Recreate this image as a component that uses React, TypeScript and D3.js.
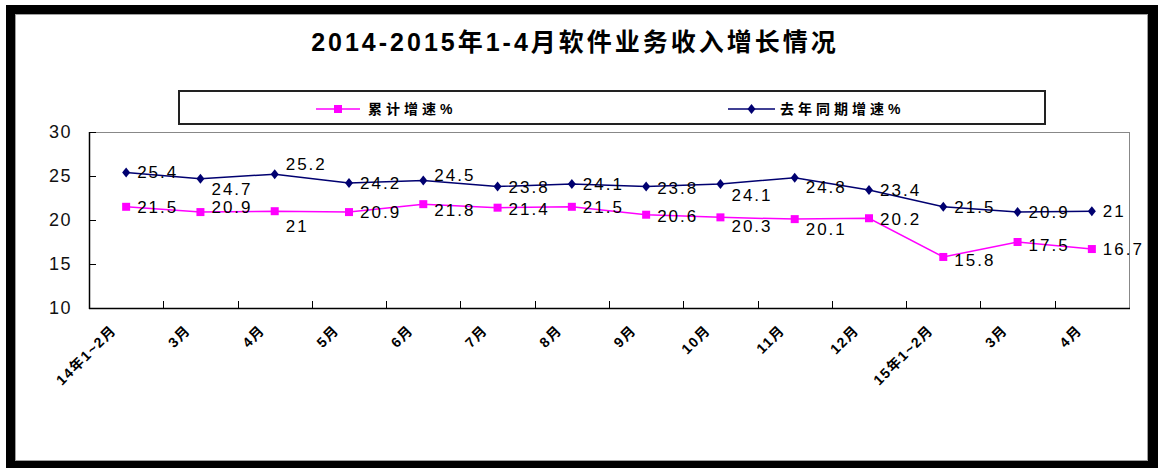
import { useEffect, useRef } from 'react'
import * as d3 from 'd3'

const categories = ['14年1~2月', '3月', '4月', '5月', '6月', '7月', '8月', '9月', '10月', '11月', '12月', '15年1~2月', '3月', '4月']
const cumulative = [21.5, 20.9, 21, 20.9, 21.8, 21.4, 21.5, 20.6, 20.3, 20.1, 20.2, 15.8, 17.5, 16.7]
const lastYear = [25.4, 24.7, 25.2, 24.2, 24.5, 23.8, 24.1, 23.8, 24.1, 24.8, 23.4, 21.5, 20.9, 21]
const yTicks = [10, 15, 20, 25, 30]
const seriesNames = ['累计增速%', '去年同期增速%']
const title = '2014-2015年1-4月软件业务收入增长情况'

// label nudges (px) so text sits like in the original
const cumDy = [0, -5, 15, 0, 6, 1, 0, 1, 9, 10, 1, 3, 3, 0]
const lastDy = [0, 10, -10, 0, -5, 0, 0, 1, 11, 9, 0, 0, 0, 0]

const PINK = '#ff00ff'
const NAVY = '#000070'
const FONT = 'Liberation Sans, Arial, sans-serif'
const CJK = 'Liberation Sans, Noto Sans CJK SC, sans-serif'

export default function App() {
  const ref = useRef<SVGSVGElement>(null)

  useEffect(() => {
    if (!ref.current) return
    const W = 1158
    const H = 468
    const svg = d3.select(ref.current)
    svg.selectAll('*').remove()
    svg.attr('width', W).attr('height', H)

    // outer frame
    svg.append('rect').attr('width', W).attr('height', H).attr('fill', '#fff')
    svg.append('rect').attr('x', 6).attr('y', 5).attr('width', W - 6).attr('height', H - 5).attr('fill', '#000')
    svg.append('rect')
      .attr('x', 15.5).attr('y', 14.5).attr('width', 1132).attr('height', 446)
      .attr('fill', '#fff').attr('stroke', '#a0a0a0')

    // title
    svg.append('text')
      .attr('x', 575).attr('y', 51)
      .attr('text-anchor', 'middle')
      .attr('font-family', CJK)
      .attr('font-size', 25)
      .attr('font-weight', 700)
      .attr('letter-spacing', 3)
      .text(title)

    const left = 89
    const right = 1129
    const top = 132
    const bottom = 308

    const x = d3.scaleBand<number>().domain(d3.range(categories.length)).range([left, right])
    const cx = (i: number) => (x(i) ?? 0) + x.bandwidth() / 2
    const y = d3.scaleLinear().domain([10, 30]).range([bottom, top])

    // legend
    svg.append('rect')
      .attr('x', 179).attr('y', 91).attr('width', 866).attr('height', 33)
      .attr('fill', '#fff').attr('stroke', '#222').attr('stroke-width', 2)

    const diamond = 'M0,-5L4,0L0,5L-4,0Z'
    const legendItems = [
      { name: seriesNames[0], color: PINK, x0: 316, x1: 360, tx: 368, shape: 'square' },
      { name: seriesNames[1], color: NAVY, x0: 728, x1: 775, tx: 780, shape: 'diamond' },
    ]
    legendItems.forEach((d) => {
      const g = svg.append('g')
      g.append('line')
        .attr('x1', d.x0).attr('x2', d.x1).attr('y1', 109).attr('y2', 109)
        .attr('stroke', d.color).attr('stroke-width', 1.5)
      const mx = (d.x0 + d.x1) / 2
      if (d.shape === 'square') {
        g.append('rect').attr('x', mx - 4).attr('y', 105).attr('width', 8).attr('height', 8).attr('fill', d.color)
      } else {
        g.append('path').attr('d', diamond).attr('transform', `translate(${mx},109)`).attr('fill', d.color)
      }
      g.append('text')
        .attr('x', d.tx).attr('y', 114)
        .attr('font-family', CJK).attr('font-size', 14).attr('font-weight', 700)
        .attr('letter-spacing', 4)
        .text(d.name)
    })

    // plot frame
    svg.append('line').attr('x1', left).attr('x2', right).attr('y1', top + 0.5).attr('y2', top + 0.5).attr('stroke', '#888')
    svg.append('line').attr('x1', right + 0.5).attr('x2', right + 0.5).attr('y1', top).attr('y2', bottom).attr('stroke', '#888')
    svg.append('line').attr('x1', left + 0.5).attr('x2', left + 0.5).attr('y1', top).attr('y2', bottom + 1).attr('stroke', '#000').attr('stroke-width', 1.5)
    svg.append('line').attr('x1', left).attr('x2', right + 1).attr('y1', bottom + 0.5).attr('y2', bottom + 0.5).attr('stroke', '#000').attr('stroke-width', 1.5)

    // y ticks + labels
    yTicks.forEach((t) => {
      svg.append('line')
        .attr('x1', left).attr('x2', left + 7).attr('y1', y(t) + 0.5).attr('y2', y(t) + 0.5)
        .attr('stroke', '#000')
      svg.append('text')
        .attr('x', 72).attr('y', y(t) + 6)
        .attr('text-anchor', 'end')
        .attr('font-family', FONT).attr('font-size', 18).attr('letter-spacing', 1.5)
        .attr('fill', '#111')
        .text(t)
    })

    // x ticks at category boundaries
    d3.range(1, categories.length).forEach((i) => {
      const bx = Math.round(x(i) ?? 0) + 0.5
      svg.append('line')
        .attr('x1', bx).attr('x2', bx).attr('y1', bottom).attr('y2', bottom - 7)
        .attr('stroke', '#000')
    })

    // x labels
    categories.forEach((c, i) => {
      svg.append('text')
        .attr('transform', `translate(${cx(i) - 9},331) rotate(-45)`)
        .attr('text-anchor', 'end')
        .attr('font-family', CJK).attr('font-size', 14).attr('font-weight', 700)
        .attr('letter-spacing', 1.5)
        .text(c)
    })

    const line = d3.line<number>().x((_, i) => cx(i)).y((v) => y(v))

    // series lines
    svg.append('path').attr('d', line(lastYear) ?? '').attr('fill', 'none').attr('stroke', NAVY).attr('stroke-width', 1.5)
    svg.append('path').attr('d', line(cumulative) ?? '').attr('fill', 'none').attr('stroke', PINK).attr('stroke-width', 1.5)

    // markers
    lastYear.forEach((v, i) => {
      svg.append('path').attr('d', diamond).attr('transform', `translate(${cx(i)},${y(v)})`).attr('fill', NAVY)
    })
    cumulative.forEach((v, i) => {
      svg.append('rect').attr('x', cx(i) - 4).attr('y', y(v) - 4).attr('width', 8).attr('height', 8).attr('fill', PINK)
    })

    // data labels
    const addLabels = (vals: number[], dys: number[]) => {
      vals.forEach((v, i) => {
        svg.append('text')
          .attr('x', cx(i) + 11).attr('y', y(v) + 6 + dys[i])
          .attr('font-family', FONT).attr('font-size', 17).attr('letter-spacing', 2)
          .attr('fill', '#000')
          .text(String(v))
      })
    }
    addLabels(lastYear, lastDy)
    addLabels(cumulative, cumDy)
  }, [])

  return <svg ref={ref} style={{ position: 'fixed', left: 0, top: 0 }} />
}
